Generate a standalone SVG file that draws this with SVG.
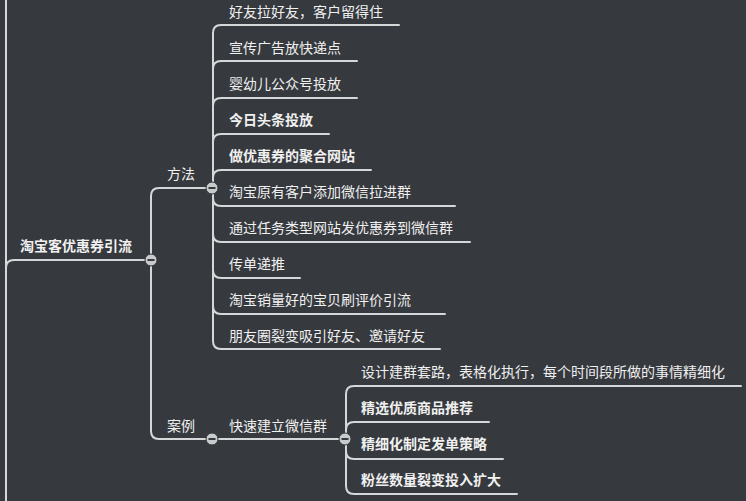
<svg xmlns="http://www.w3.org/2000/svg" width="746" height="501" viewBox="0 0 746 501">
<style>
.l{fill:none;stroke:#d6d7d8;stroke-width:2;stroke-linecap:round}
text{font-family:"Noto Sans CJK SC","Liberation Sans",sans-serif;font-size:14px;fill:#f0f0f0}
.b{font-weight:bold}
.c{fill:#c9cacb;stroke:#36393e;stroke-width:1}
.m{stroke:#36393e;stroke-width:2}
</style>
<rect width="746" height="501" fill="#36393e"/>
<g id="connectors">
<path class="l" d="M6 0V501"/>
<path class="l" d="M6 268Q6 260 14 260H151"/>
<path class="l" d="M212 188H159Q151 188 151 196V431Q151 439 159 439H212"/>
<path class="l" d="M212 439H345"/>
<path class="l" d="M399 25H221Q213 25 213 33V341Q213 349 221 349H440"/>
<path class="l" d="M357 61H221Q213 61 213 69M357 98H221Q213 98 213 106M329 134H221Q213 134 213 142M371 170H221Q213 170 213 178M455 206H221Q213 206 213 198M470 242H221Q213 242 213 234M300 278H221Q213 278 213 270M445 314H221Q213 314 213 306"/>
<path class="l" d="M741 386H354Q346 386 346 394V486Q346 494 354 494H517"/>
<path class="l" d="M489 422H354Q346 422 346 430M503 459H354Q346 459 346 451"/>
</g>
<g id="root"><text x="20" y="251" class="b">淘宝客优惠券引流</text><circle class="c" cx="151" cy="260" r="6"/><path class="m" d="M147.5 260H154.5"/></g>
<g id="fangfa"><text x="167" y="179">方法</text><circle class="c" cx="212" cy="188" r="6"/><path class="m" d="M208.5 188H215.5"/></g>
<g id="anli"><text x="167" y="431">案例</text><circle class="c" cx="212" cy="439" r="6"/><path class="m" d="M208.5 439H215.5"/></g>
<g id="m1"><text x="229" y="17">好友拉好友，客户留得住</text></g>
<g id="m2"><text x="229" y="53">宣传广告放快递点</text></g>
<g id="m3"><text x="229" y="89">婴幼儿公众号投放</text></g>
<g id="m4"><text x="229" y="125" class="b">今日头条投放</text></g>
<g id="m5"><text x="229" y="161" class="b">做优惠券的聚合网站</text></g>
<g id="m6"><text x="229" y="197">淘宝原有客户添加微信拉进群</text></g>
<g id="m7"><text x="229" y="233">通过任务类型网站发优惠券到微信群</text></g>
<g id="m8"><text x="229" y="269">传单递推</text></g>
<g id="m9"><text x="229" y="305">淘宝销量好的宝贝刷评价引流</text></g>
<g id="m10"><text x="229" y="341">朋友圈裂变吸引好友、邀请好友</text></g>
<g id="kuaisu"><text x="229" y="431">快速建立微信群</text><circle class="c" cx="345" cy="439" r="6"/><path class="m" d="M341.5 439H348.5"/></g>
<g id="k1"><text x="361" y="377">设计建群套路，表格化执行，每个时间段所做的事情精细化</text></g>
<g id="k2"><text x="361" y="413" class="b">精选优质商品推荐</text></g>
<g id="k3"><text x="361" y="449" class="b">精细化制定发单策略</text></g>
<g id="k4"><text x="361" y="485" class="b">粉丝数量裂变投入扩大</text></g>
</svg>
